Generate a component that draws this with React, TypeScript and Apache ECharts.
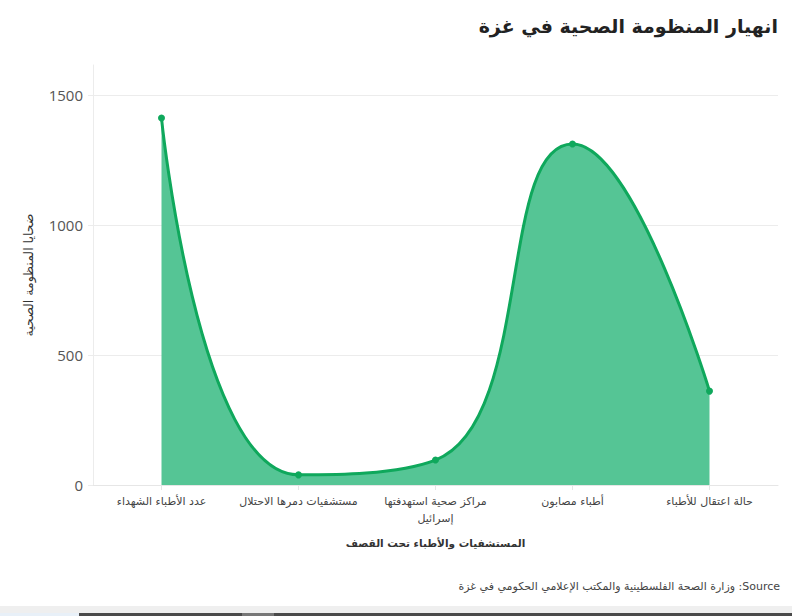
import React, { useEffect, useRef } from "react";
import * as echarts from "echarts";

const titleText = "انهيار المنظومة الصحية في غزة";
const categories = [
  "عدد الأطباء الشهداء",
  "مستشفيات دمرها الاحتلال",
  "مراكز صحية استهدفتها إسرائيل",
  "أطباء مصابون",
  "حالة اعتقال للأطباء",
];
const values = [1411, 39, 96, 1311, 361];
const yTicks = [0, 500, 1000, 1500];
const xAxisName = "المستشفيات والأطباء تحت القصف";
const yAxisName = "ضحايا المنظومة الصحية";
const sourceText = "وزارة الصحة الفلسطينية والمكتب الإعلامي الحكومي في غزة :Source";

const LINE = "#0fa85c";
const FILL = "#55c595";
const AR_FONT = "'DejaVu Sans', sans-serif";

export default function App() {
  const ref = useRef<HTMLDivElement>(null);
  useEffect(() => {
    document.body.style.margin = "0";
    const chart = echarts.init(ref.current!, null, { renderer: "svg" });
    chart.setOption({
      animation: false,
      backgroundColor: "#ffffff",
      title: {
        text: titleText,
        right: 9,
        top: 11,
        textStyle: { fontFamily: AR_FONT, fontSize: 19, fontWeight: "bold", color: "#222" },
      },
      grid: { left: 93, right: 14, top: 65, bottom: 131 },
      xAxis: {
        type: "category",
        data: categories,
        boundaryGap: true,
        name: xAxisName,
        nameLocation: "middle",
        nameGap: 52,
        nameTextStyle: { fontFamily: AR_FONT, fontSize: 10.5, fontWeight: "bold", color: "#333" },
        axisLine: { show: true, lineStyle: { color: "#e6e6e6", width: 1 } },
        axisTick: { show: true, alignWithLabel: true, length: 5, lineStyle: { color: "#e6e6e6" } },
        axisLabel: {
          interval: 0,
          margin: 8,
          fontFamily: AR_FONT,
          fontSize: 11,
          color: "#444",
          lineHeight: 17,
          formatter: (v: string) => v.replace("استهدفتها ", "استهدفتها\n"),
        },
        splitLine: { show: false },
      },
      yAxis: {
        type: "value",
        min: 0,
        max: 1615,
        interval: 500,
        name: yAxisName,
        nameLocation: "middle",
        nameGap: 58,
        nameRotate: 90,
        nameTextStyle: { fontFamily: AR_FONT, fontSize: 12.5, color: "#333" },
        axisLine: { show: true, lineStyle: { color: "#ececec", width: 1 } },
        axisTick: { show: true, length: 5, lineStyle: { color: "#ececec" } },
        axisLabel: {
          showMaxLabel: false,
          margin: 10,
          fontFamily: "'Open Sans', sans-serif",
          fontSize: 15,
          color: "#555",
          formatter: (v: number) => (yTicks.includes(v) ? String(v) : ""),
        },
        splitLine: { show: true, showMaxLine: false, lineStyle: { color: "#ececec", width: 1 } },
      },
      series: [
        {
          type: "line",
          data: values,
          smooth: 0.5,
          symbol: "circle",
          symbolSize: 7,
          itemStyle: { color: LINE },
          lineStyle: { color: LINE, width: 3 },
          areaStyle: { color: FILL, opacity: 1 },
        },
      ],
      graphic: [
        {
          type: "text",
          right: 12,
          top: 581,
          style: { text: sourceText, fontFamily: AR_FONT, fontSize: 11, fill: "#444" },
        },
        { type: "rect", shape: { x: 0, y: 606, width: 792, height: 7 }, style: { fill: "#efefef" } },
        { type: "rect", shape: { x: 0, y: 613, width: 792, height: 3 }, style: { fill: "#4a4a4a" } },
        { type: "rect", shape: { x: 0, y: 613, width: 79, height: 3 }, style: { fill: "#e8f0f8" } },
        { type: "rect", shape: { x: 242, y: 613, width: 32, height: 3 }, style: { fill: "#777777" } },
      ],
    });
    return () => chart.dispose();
  }, []);
  return <div ref={ref} style={{ width: 792, height: 616 }} />;
}
